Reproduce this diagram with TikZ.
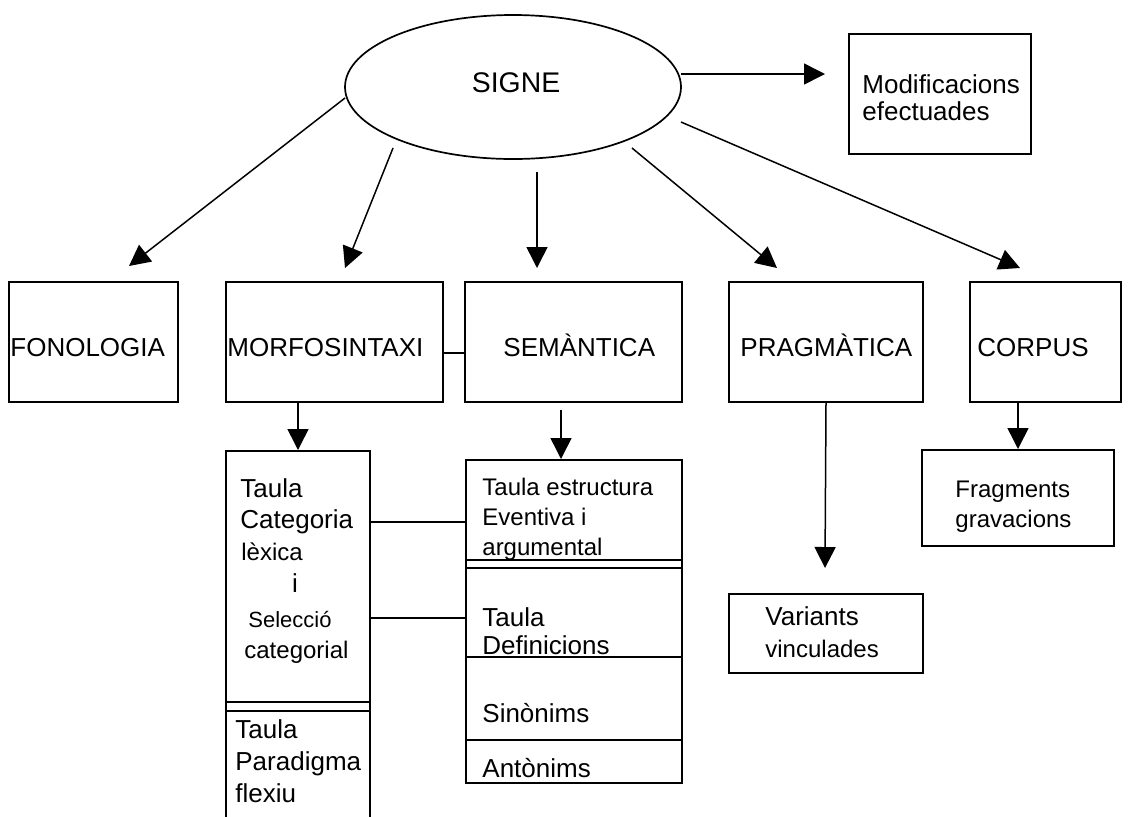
\documentclass[tikz,border=0pt]{standalone}
\usepackage{fontspec}
\setmainfont{Liberation Sans}
\usetikzlibrary{arrows.meta,shapes.geometric}
\begin{document}
\begin{tikzpicture}[x=0.5pt,y=-0.5pt,
  box/.style={draw, line width=1pt, inner sep=0pt, anchor=north west},
  conn/.style={line width=0.75pt},
  arr/.style={conn, -{Triangle[length=10.5pt,width=10.5pt]}},
  lbl/.style={anchor=base west, inner sep=0pt, font=\fontsize{13pt}{15pt}\selectfont},
  lblm/.style={lbl, font=\fontsize{12pt}{14pt}\selectfont},
  lbls/.style={lbl, font=\fontsize{11pt}{13pt}\selectfont}]
\useasboundingbox (0,0) rectangle (1128,816);

% central ellipse
\node[draw, ellipse, line width=0.85pt, minimum width=168pt, minimum height=72pt, inner sep=0pt] (signe) at (513,87) {};
\node[anchor=base, inner sep=0pt, font=\fontsize{14.2pt}{16pt}\selectfont] (signet) at (516,92) {SIGNE};

% top boxes
\node[box, minimum width=91pt, minimum height=60pt] (mod) at (848,33) {};
\node[lbl] (modt1) at (862,93) {Modificacions};
\node[lbl] (modt2) at (862,120) {efectuades};

\node[box, minimum width=84.5pt, minimum height=60pt] (fono) at (8,281) {};
\node[box, minimum width=108.5pt, minimum height=60pt] (morfo) at (225,281) {};
\node[box, minimum width=108.5pt, minimum height=60pt] (sem) at (464,281) {};
\node[box, minimum width=97pt, minimum height=60pt] (prag) at (728,281) {};
\node[box, minimum width=75.5pt, minimum height=60pt] (corpus) at (969,281) {};

\node[lbl] (fonot) at (10,356) {FONOLOGIA};
\node[lbl] (morfot) at (227,356) {MORFOSINTAXI};
\node[lbl] (semt) at (503,356) {SEMÀNTICA};
\node[lbl] (pragt) at (740,356) {PRAGMÀTICA};
\node[lbl] (corpust) at (977,356) {CORPUS};

% arrows from SIGNE
\coordinate (s0) at (681,74);  \coordinate (e0) at (825,74);
\coordinate (s1) at (345,98);  \coordinate (e1) at (129,266);
\coordinate (s2) at (393,148); \coordinate (e2) at (345,268);
\coordinate (s3) at (537,172); \coordinate (e3) at (537,268);
\coordinate (s4) at (632,148); \coordinate (e4) at (777,268);
\coordinate (s5) at (681,122); \coordinate (e5) at (1020,268);
\draw[arr] (s0) -- (e0);
\draw[arr] (s1) -- (e1);
\draw[arr] (s2) -- (e2);
\draw[arr] (s3) -- (e3);
\draw[arr] (s4) -- (e4);
\draw[arr] (s5) -- (e5);

% morfo -- sem link
\draw[conn] (morfo.east |- 0,353) -- (sem.west |- 0,353);

% left sub box
\node[box, minimum width=72pt, minimum height=190pt] (cat) at (225,450) {};
\draw[conn] (225,702) -- (369,702);
\draw[conn] (225,711) -- (369,711);
\draw[arr] (morfo.south -| cat.north) -- (cat.north);
\node[lbl] (catt1) at (240,497) {Taula};
\node[lbl] (catt2) at (240,528) {Categoria};
\node[lblm] (catt3) at (241,560) {lèxica};
\node[lbl, anchor=base] (catt4) at (295,592) {i};
\node[lbls] (catt5) at (248,627) {Selecció};
\node[lblm] (catt6) at (244,658) {categorial};
\node[lbl] (part1) at (235,738) {Taula};
\node[lbl] (part2) at (235,770) {Paradigma};
\node[lbl] (part3) at (235,802) {flexiu};

% right sub box
\node[box, minimum width=108pt, minimum height=161.5pt] (est) at (465,459) {};
\draw[conn] (465,560) -- (681,560);
\draw[conn] (465,568) -- (681,568);
\draw[conn] (465,657) -- (681,657);
\draw[conn] (465,740) -- (681,740);
\coordinate (sd) at (561,410);
\draw[arr] (sd) -- (sd |- est.north);
\node[lblm] (estt1) at (482,495) {Taula estructura};
\node[lblm] (estt2) at (482,525) {Eventiva i};
\node[lblm] (estt3) at (482,555) {argumental};
\node[lbl] (deft1) at (482,626) {Taula};
\node[lbl] (deft2) at (482,654) {Definicions};
\node[lbl] (sint) at (482,722) {Sinònims};
\node[lbl] (antt) at (482,777) {Antònims};

\draw[conn] (cat.east |- 0,522) -- (est.west |- 0,522);
\draw[conn] (cat.east |- 0,618) -- (est.west |- 0,618);

% pragmatica
\node[box, minimum width=97pt, minimum height=39.5pt] (var) at (728,593) {};
\coordinate (pe) at (825,568);
\draw[arr] (prag.south) -- (pe);
\node[lbl] (vart1) at (765,625) {Variants};
\node[lblm] (vart2) at (765,657) {vinculades};

% corpus
\node[box, minimum width=96pt, minimum height=48pt] (frag) at (921,449) {};
\draw[arr] (corpus.south -| frag.north) -- (frag.north);
\node[lblm] (fragt1) at (955,497) {Fragments};
\node[lblm] (fragt2) at (955,527) {gravacions};
\end{tikzpicture}
\end{document}
